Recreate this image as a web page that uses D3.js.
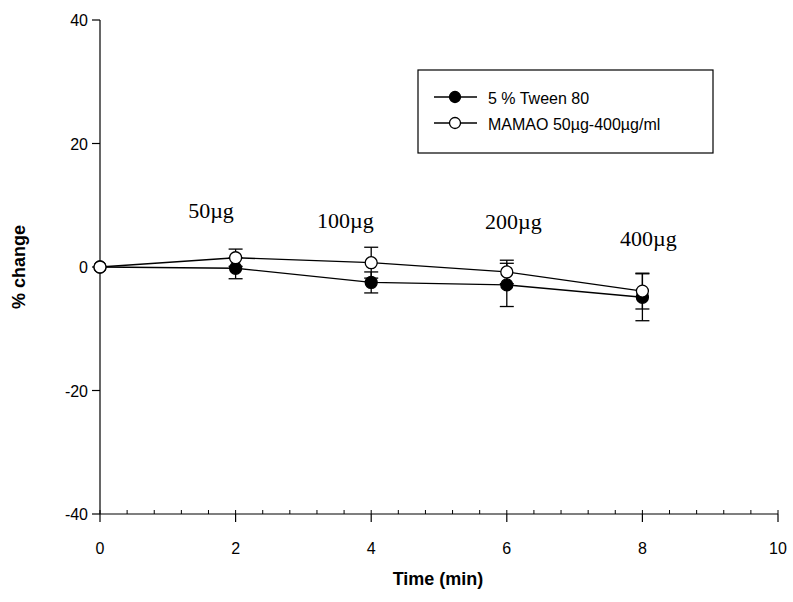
<!DOCTYPE html>
<html>
<head>
<meta charset="utf-8">
<script src="https://cdn.jsdelivr.net/npm/d3@7"></script>
<style>
  body { margin: 0; background: #fff; }
  text { font-family: Arial, "Liberation Sans", sans-serif; }
</style>
</head>
<body>
<svg width="793" height="602"></svg>
<script>
var times = [0, 2, 4, 6, 8];
var tween = [0, -0.2, -2.5, -2.9, -4.9];
var tweenErr = [0, 1.7, 1.7, 3.5, 3.8];
var mamao = [0, 1.5, 0.7, -0.8, -3.9];
var mamaoErr = [0, 1.4, 2.5, 1.9, 2.9];
var doseLabels = ["50\u00b5g", "100\u00b5g", "200\u00b5g", "400\u00b5g"];
var doseX = [1.3, 3.2, 5.68, 7.67];
var doseY = [7.9, 6.3, 6.15, 3.4];
var xTicks = [0, 2, 4, 6, 8, 10];
var yTicks = [-40, -20, 0, 20, 40];

var svg = d3.select("svg");
var x = d3.scaleLinear().domain([0, 10]).range([100, 778]);
var y = d3.scaleLinear().domain([-40, 40]).range([514, 20]);

// x axis: major ticks out, minor ticks in
var xAxis = svg.append("g").attr("transform", "translate(0," + y(-40) + ")");
xAxis.append("line").attr("x1", x(0)).attr("x2", x(10)).attr("stroke", "#000").attr("stroke-width", 1.2);
xAxis.selectAll(".minor").data(d3.range(0, 10.01, 0.4)).enter().append("line")
  .attr("x1", function(d) { return x(d); }).attr("x2", function(d) { return x(d); })
  .attr("y1", 0).attr("y2", -4).attr("stroke", "#000");
xAxis.selectAll(".major").data(xTicks).enter().append("line")
  .attr("x1", function(d) { return x(d); }).attr("x2", function(d) { return x(d); })
  .attr("y1", 0).attr("y2", 8).attr("stroke", "#000").attr("stroke-width", 1.2);
xAxis.selectAll(".lab").data(xTicks).enter().append("text")
  .attr("x", function(d) { return x(d); }).attr("y", 40)
  .attr("text-anchor", "middle").attr("font-size", 16).text(function(d) { return d; });

// y axis
var yAxis = svg.append("g");
yAxis.append("line").attr("x1", x(0)).attr("x2", x(0)).attr("y1", y(40)).attr("y2", y(-40))
  .attr("stroke", "#000").attr("stroke-width", 1.2);
yAxis.selectAll(".major").data(yTicks).enter().append("line")
  .attr("x1", x(0) - 8).attr("x2", x(0))
  .attr("y1", function(d) { return y(d); }).attr("y2", function(d) { return y(d); })
  .attr("stroke", "#000").attr("stroke-width", 1.2);
yAxis.selectAll(".lab").data(yTicks).enter().append("text")
  .attr("x", x(0) - 12).attr("y", function(d) { return y(d) + 6; })
  .attr("text-anchor", "end").attr("font-size", 16).text(function(d) { return d; });

svg.append("text").attr("transform", "translate(25," + y(0) + ") rotate(-90)")
  .attr("text-anchor", "middle").attr("font-size", 18).attr("font-weight", "bold").text("% change");
svg.append("text").attr("x", 438).attr("y", 585)
  .attr("text-anchor", "middle").attr("font-size", 18).attr("font-weight", "bold").text("Time (min)");

function drawSeries(vals, errs, fill) {
  var pts = times.map(function(t, i) { return { t: t, v: vals[i], e: errs[i] }; });
  var g = svg.append("g");
  g.append("path").datum(pts)
    .attr("d", d3.line().x(function(d) { return x(d.t); }).y(function(d) { return y(d.v); }))
    .attr("fill", "none").attr("stroke", "#000").attr("stroke-width", 1.3);
  var eb = g.selectAll(".eb").data(pts.filter(function(d) { return d.e > 0; })).enter().append("g");
  eb.append("line")
    .attr("x1", function(d) { return x(d.t); }).attr("x2", function(d) { return x(d.t); })
    .attr("y1", function(d) { return y(d.v - d.e); }).attr("y2", function(d) { return y(d.v + d.e); })
    .attr("stroke", "#000").attr("stroke-width", 1.3);
  [-1, 1].forEach(function(s) {
    eb.append("line")
      .attr("x1", function(d) { return x(d.t) - 7; }).attr("x2", function(d) { return x(d.t) + 7; })
      .attr("y1", function(d) { return y(d.v + s * d.e); }).attr("y2", function(d) { return y(d.v + s * d.e); })
      .attr("stroke", "#000").attr("stroke-width", 1.3);
  });
  g.selectAll("circle").data(pts).enter().append("circle")
    .attr("cx", function(d) { return x(d.t); }).attr("cy", function(d) { return y(d.v); })
    .attr("r", 6).attr("fill", fill).attr("stroke", "#000").attr("stroke-width", 1.3);
}
drawSeries(tween, tweenErr, "#000");
drawSeries(mamao, mamaoErr, "#fff");

svg.selectAll(".dose").data(doseLabels).enter().append("text")
  .attr("x", function(d, i) { return x(doseX[i]); })
  .attr("y", function(d, i) { return y(doseY[i]); })
  .style("font-family", "'Liberation Serif', 'Times New Roman', serif")
  .attr("font-size", 22).text(function(d) { return d; });

// legend
var leg = svg.append("g");
leg.append("rect").attr("x", 418).attr("y", 70).attr("width", 295).attr("height", 83)
  .attr("fill", "#fff").attr("stroke", "#000").attr("stroke-width", 1.2);
var legItems = [{ name: "5 % Tween 80", fill: "#000" }, { name: "MAMAO 50\u00b5g-400\u00b5g/ml", fill: "#fff" }];
legItems.forEach(function(it, i) {
  var ly = 97 + i * 26;
  leg.append("line").attr("x1", 434).attr("x2", 477).attr("y1", ly).attr("y2", ly)
    .attr("stroke", "#000").attr("stroke-width", 1.3);
  leg.append("circle").attr("cx", 455).attr("cy", ly).attr("r", 5.5)
    .attr("fill", it.fill).attr("stroke", "#000").attr("stroke-width", 1.3);
  leg.append("text").attr("x", 488).attr("y", ly + 7).attr("font-size", 16).text(it.name);
});
</script>
</body>
</html>
